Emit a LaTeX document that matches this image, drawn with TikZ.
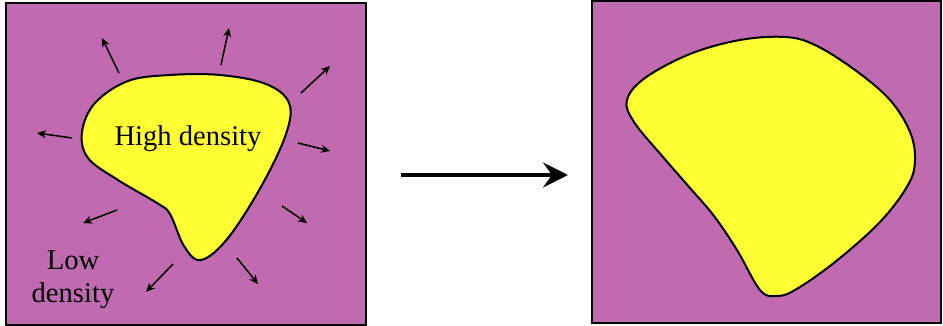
\documentclass[tikz,border=0pt]{standalone}
\usepackage{fontspec}
\setmainfont{Liberation Serif}
\usetikzlibrary{arrows.meta}
\definecolor{bgpurple}{RGB}{192,106,176}
\definecolor{blobyellow}{RGB}{255,255,51}
\tikzset{
  panel/.style={fill=bgpurple, draw=black, line width=1.5pt},
  blob/.style={fill=blobyellow, draw=black, line width=2pt},
  ray/.style={line width=1.5pt, -{Stealth[length=9pt,width=8pt]}},
  bigarrow/.style={line width=4pt, -{Stealth[length=25pt,width=25pt,inset=9pt]}},
  lbl/.style={font=\fontsize{28.6}{33}\selectfont, inner sep=0pt, align=center}
}
\begin{document}
\begin{tikzpicture}[x=1pt,y=-1pt]
\useasboundingbox (0,0) rectangle (943,326);
% panels
\draw[panel] (6,3) rectangle (366,325);
\draw[panel] (592,1) rectangle (941,323);
% left blob
\draw[blob] plot[smooth cycle, tension=0.6] coordinates {
 (82,132) (95,103) (128,81) (170,75) (220,75) (266,84) (289,103) (286,134)
 (262,185) (228,238) (201,260) (184,246) (170,214) (157,203) (118,180) (88,158)};
% right blob
\draw[blob] plot[smooth cycle, tension=0.6] coordinates {
 (627,100) (645,78) (690,54) (740,40) (785,37) (815,45) (855,70) (890,100)
 (910,132) (915,160) (908,185) (880,222) (835,262) (795,290) (776,296)
 (760,290) (737,250) (714,216) (690,188) (663,157) (634,122)};
% labels
\node[lbl] (hd) at (188,139) {High density};
\node[lbl] (ld) at (73,280) {Low\\density};
% rays
\coordinate (s1) at (119,73);  \coordinate (e1) at (102,38);
\coordinate (s2) at (221,65);  \coordinate (e2) at (229,28);
\coordinate (s3) at (301,93);  \coordinate (e3) at (330,66);
\coordinate (s4) at (298,143); \coordinate (e4) at (330,151);
\coordinate (s5) at (282,206); \coordinate (e5) at (307,223);
\coordinate (s6) at (237,258); \coordinate (e6) at (258,284);
\coordinate (s7) at (173,264); \coordinate (e7) at (146,292);
\coordinate (s8) at (117,210); \coordinate (e8) at (83,223);
\coordinate (s9) at (72,138);  \coordinate (e9) at (37,133);
\foreach \i in {1,...,9}{\draw[ray] (s\i) -- (e\i);}
% big arrow
\coordinate (ba) at (401,175);
\coordinate (bb) at (568,175);
\draw[bigarrow] (ba) -- (bb);
\end{tikzpicture}
\end{document}
